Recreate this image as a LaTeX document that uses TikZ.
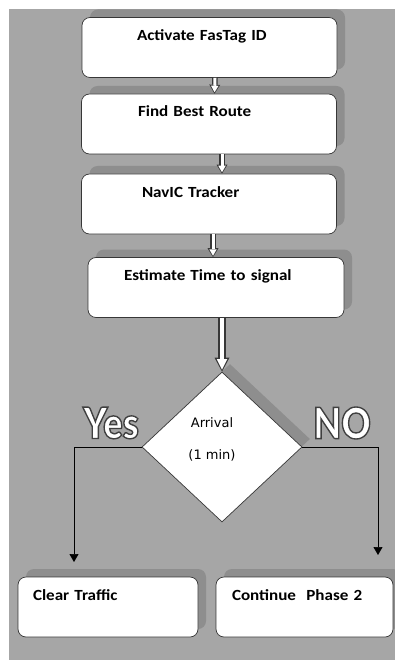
\documentclass[tikz,border=0pt]{standalone}
\usepackage{fontspec}
\usetikzlibrary{shapes.geometric,shadows,arrows.meta}
\newfontfamily\boxfont{Carlito}[FakeStretch=1.1]
\newfontfamily\signfont{DejaVu Sans}
\newfontfamily\bigfont{Lato Black}[FakeStretch=0.84, FakeBold=3.2]
\definecolor{bggray}{RGB}{166,166,166}
\definecolor{shadegray}{RGB}{142,142,142}
\definecolor{edgegray}{RGB}{55,55,55}
\newcommand\ringtext[1]{\special{pdf:literal direct 0.25 0.25 0.25 RG}#1}
\begin{document}
\begin{tikzpicture}[x=1pt,y=-1pt,
    stepbox/.style={draw=edgegray, fill=white, rounded corners=8pt, line width=0.7pt,
        minimum width=255pt, inner xsep=0pt, inner ysep=0pt,
        text height=23pt, text depth=37pt, align=left,
        font=\boxfont\bfseries\fontsize{15.5}{18}\selectfont,
        drop shadow={shadow xshift=8pt, shadow yshift=8pt, fill=shadegray, opacity=1}},
    decision/.style={diamond, draw=edgegray, fill=white, line width=0.7pt,
        minimum width=160pt, minimum height=150pt, inner sep=0pt,
        drop shadow={shadow xshift=8pt, shadow yshift=8pt, fill=shadegray, opacity=1}},
    signtext/.style={font=\signfont\fontsize{13}{16}\selectfont, align=center},
    answer/.style={text=white, font=\bigfont\fontsize{43}{43}\selectfont},
    hollow/.style={draw=edgegray, line width=5.5pt,
        -{Triangle[length=9pt, width=11pt, line width=0pt]},
        postaction={draw=white, line width=3pt, shorten >=1.4pt,
        -{Triangle[length=6.5pt, width=7.5pt, line width=0pt]}}},
    hollow wide/.style={draw=edgegray, line width=8pt,
        -{Triangle[length=14pt, width=15pt, line width=0pt]},
        postaction={draw=white, line width=4.6pt, shorten >=2pt,
        -{Triangle[length=10.5pt, width=10.5pt, line width=0pt]}}},
    branch/.style={draw=black, line width=0.7pt, -{Triangle[length=8pt, width=9pt]}}]
    \useasboundingbox (0,0) rectangle (395,660);
    \fill[bggray] (9,9) rectangle (395,660);

    \node[stepbox, text width=145pt] (fastag) at (209.5,47.5) {Activate FasTag ID};
    \node[stepbox, text width=142pt] (route) at (209,124) {Find Best Route};
    \node[stepbox, text width=134pt] (navic) at (209,204) {NavIC Tracker};
    \node[stepbox, text width=184pt, minimum width=256pt] (estimate) at (216,287.5) {Estimate Time to signal};
    \node[decision] (arrival) at (222,447) {};
    \node[signtext] (arrivaltext) at ([xshift=-10pt, yshift=8pt]arrival.center) {Arrival\\[16pt](1 min)};
    \node[stepbox, text width=150pt, minimum width=180pt] (clear) at (108,607) {Clear Traffic};
    \node[stepbox, text width=145pt, minimum width=177pt] (phase) at (304.5,607) {Continue\ \ Phase 2};

    \node[answer] (yes) at (111,423) {\ringtext{Yes}};
    \node[answer] (no) at (342,423) {\ringtext{NO}};

    \draw[hollow] ([xshift=5.5pt]fastag.south) -- ([xshift=5.5pt]route.north);
    \draw[hollow] ([xshift=13pt]route.south) -- ([xshift=13pt]navic.north);
    \draw[hollow] ([xshift=4pt]navic.south) -- ([xshift=4pt]estimate.north -| navic.south);
    \draw[hollow wide] ([xshift=6pt]estimate.south) -- (arrival.north);

    \coordinate (yesend) at (74,562);
    \coordinate (noend) at (378,555);
    \draw[branch] (arrival.west) -| (yesend);
    \draw[branch] (arrival.east) -| (noend);
\end{tikzpicture}
\end{document}
